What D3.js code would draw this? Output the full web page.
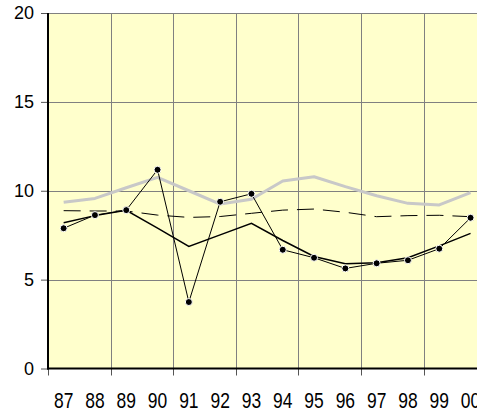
<!DOCTYPE html>
<html><head><meta charset="utf-8">
<script src="https://cdn.jsdelivr.net/npm/d3@7/dist/d3.min.js"></script>
<style>html,body{margin:0;padding:0;background:#fff;}svg{display:block;}</style>
</head><body>
<svg id="c" width="477" height="415"></svg>
<script>
const categories = ["87","88","89","90","91","92","93","94","95","96","97","98","99","00"];
const markerSeries = [7.89,8.63,8.91,11.18,3.74,9.38,9.83,6.68,6.23,5.63,5.92,6.09,6.74,8.48];
const solidSeries  = [8.2,8.6,8.9,7.9,6.87,7.52,8.17,7.2,6.3,5.9,5.95,6.23,6.9,7.6];
const graySeries   = [9.35,9.57,10.17,10.75,10.0,9.25,9.52,10.55,10.79,10.23,9.72,9.29,9.2,9.89];
const dashedSeries = [8.88,8.86,8.86,8.63,8.5,8.55,8.73,8.91,8.97,8.79,8.54,8.6,8.62,8.54];
const yTicks = [0,5,10,15,20];

const svg = d3.select("#c");
const L = 48, R = 486.2, T = 13, B = 368.5;
const x = d3.scaleBand().domain(categories).range([L, R]).padding(0);
const y = d3.scaleLinear().domain([0, 20]).range([B, T]);
const cx = d => x(d) + x.bandwidth() / 2;

svg.append("rect").attr("x", L).attr("y", T).attr("width", R - L).attr("height", B - T).attr("fill", "#FFFFCC");

// horizontal gridlines
svg.append("g").selectAll("line").data(yTicks.filter(v => v > 0)).join("line")
  .attr("x1", L).attr("x2", R).attr("y1", d => Math.round(y(d)) + 0.5).attr("y2", d => Math.round(y(d)) + 0.5)
  .attr("stroke", "#808080").attr("stroke-width", 1);
// vertical gridlines every 2 categories
const vCats = categories.filter((c, i) => i > 0 && i % 2 === 0);
svg.append("g").selectAll("line").data(vCats).join("line")
  .attr("x1", d => Math.round(x(d)) + 0.5).attr("x2", d => Math.round(x(d)) + 0.5)
  .attr("y1", T).attr("y2", B)
  .attr("stroke", "#808080").attr("stroke-width", 1);

const line = d3.line().x((d, i) => cx(categories[i])).y(d => y(d));

svg.append("path").datum(graySeries).attr("d", line).attr("fill", "none")
  .attr("stroke", "#C8C8C8").attr("stroke-width", 3).attr("stroke-linejoin", "round");
svg.append("path").datum(dashedSeries).attr("d", line).attr("fill", "none")
  .attr("stroke", "#000").attr("stroke-width", 1).attr("stroke-dasharray", "17,9");
svg.append("path").datum(solidSeries).attr("d", line).attr("fill", "none")
  .attr("stroke", "#000").attr("stroke-width", 1.5);
svg.append("path").datum(markerSeries).attr("d", line).attr("fill", "none")
  .attr("stroke", "#000").attr("stroke-width", 1);
svg.append("g").selectAll("circle").data(markerSeries).join("circle")
  .attr("cx", (d, i) => cx(categories[i])).attr("cy", d => y(d)).attr("r", 3.5)
  .attr("fill", "#000").attr("stroke", "#fff").attr("stroke-width", 1);

// axes
const yAxis = d3.axisLeft(y).tickValues(yTicks).tickSize(7).tickPadding(7).tickFormat(d3.format("d"));
const gy = svg.append("g").attr("transform", `translate(${L},0)`).call(yAxis);
gy.select(".domain").remove();
gy.selectAll(".tick line").attr("stroke", "#555");
gy.selectAll(".tick text").attr("font-family", "Liberation Sans, Arial, sans-serif").attr("font-size", 18).attr("fill", "#000");

const xAxis = d3.axisBottom(x).tickSize(0).tickPadding(0);
const gx = svg.append("g").attr("transform", `translate(0,${B})`).call(xAxis);
gx.select(".domain").remove();
gx.selectAll(".tick text")
  .attr("font-family", "Liberation Sans, Arial, sans-serif").attr("font-size", 18).attr("fill", "#000")
  .attr("dy", null).attr("y", 0)
  .attr("transform", "translate(0,39) scale(0.97,1.24)");
// x tick marks every 2 categories
svg.append("g").selectAll("line").data(categories.filter((c, i) => i % 2 === 0)).join("line")
  .attr("x1", d => Math.round(x(d)) + 0.5).attr("x2", d => Math.round(x(d)) + 0.5)
  .attr("y1", B).attr("y2", B + 7).attr("stroke", "#555");

svg.append("line").attr("x1", L).attr("x2", L).attr("y1", T).attr("y2", B + 1).attr("stroke", "#000").attr("stroke-width", 2);
svg.append("line").attr("x1", L - 1).attr("x2", R).attr("y1", B).attr("y2", B).attr("stroke", "#000").attr("stroke-width", 2);
</script>
</body></html>
